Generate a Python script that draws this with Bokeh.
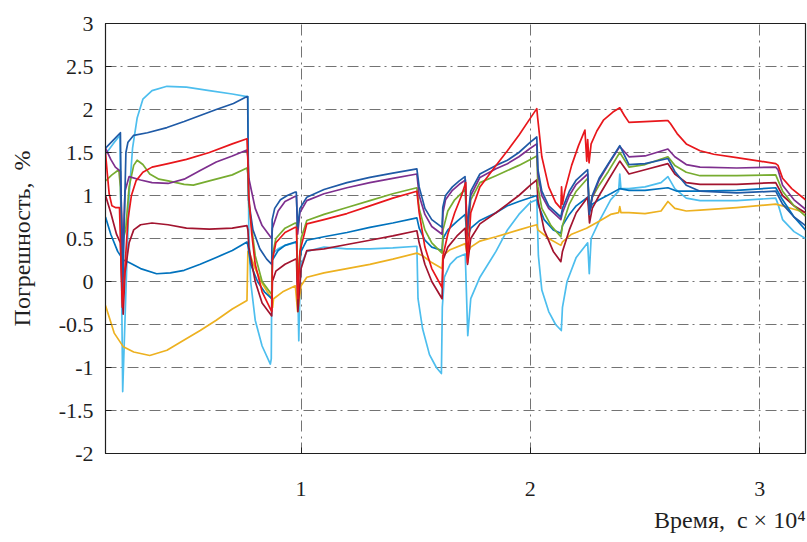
from bokeh.plotting import figure
from bokeh.models import Range1d, FixedTicker, Title
from bokeh.embed import file_html
from bokeh.resources import INLINE

# Measurement error traces, (time ×10^4 s, error %) pairs per channel
red = [(0.147, 1.50), (0.155, 1.25), (0.163, 1.02), (0.175, 0.88), (0.19, 0.86), (0.208, 0.86),
       (0.214, 0.30), (0.220, -0.30), (0.226, -0.10), (0.235, 0.30), (0.245, 0.72), (0.26, 1.00),
       (0.28, 1.17), (0.31, 1.27), (0.35, 1.33), (0.42, 1.37), (0.50, 1.42), (0.60, 1.50),
       (0.70, 1.60), (0.764, 1.66),
       (0.768, 1.40), (0.772, 1.00), (0.785, 0.55), (0.80, 0.20), (0.83, -0.12), (0.872, -0.35),
       (0.875, 0.25), (0.89, 0.45), (0.93, 0.57), (0.975, 0.63),
       (0.98, 0.63), (0.986, -0.20), (0.995, 0.35), (1.025, 0.67),
       (1.10, 0.72), (1.20, 0.79), (1.30, 0.88), (1.40, 0.97), (1.505, 1.05),
       (1.515, 0.80), (1.54, 0.40), (1.57, 0.15), (1.615, -0.07),
       (1.619, 0.30), (1.64, 0.55), (1.67, 0.80), (1.70, 1.00), (1.718, 1.15),
       (1.726, 0.22),
       (1.74, 0.80), (1.78, 1.10), (1.85, 1.35), (1.90, 1.52), (1.95, 1.70), (2.00, 1.90), (2.028, 2.01),
       (2.032, 1.90), (2.05, 1.45), (2.08, 1.10), (2.11, 0.92), (2.133, 0.85), (2.136, 1.10), (2.14, 0.90),
       (2.15, 1.05), (2.18, 1.35), (2.21, 1.58), (2.238, 1.76),
       (2.246, 1.40), (2.25, 1.65), (2.256, 1.38), (2.265, 1.60),
       (2.29, 1.75), (2.32, 1.88), (2.36, 1.97), (2.39, 2.02),
       (2.41, 1.93), (2.43, 1.85), (2.50, 1.86), (2.59, 1.87), (2.60, 1.87),
       (2.61, 1.84), (2.64, 1.72), (2.68, 1.60), (2.74, 1.52),
       (2.80, 1.48), (2.90, 1.44), (3.00, 1.40), (3.07, 1.37),
       (3.08, 1.35), (3.10, 1.20), (3.14, 1.08), (3.20, 0.95)]

purple = [(0.147, 1.55), (0.17, 1.42), (0.19, 1.33), (0.212, 1.28), (0.217, 0.80), (0.223, 0.30),
          (0.232, 1.05), (0.25, 1.22), (0.30, 1.18), (0.35, 1.15), (0.42, 1.14), (0.49, 1.19),
          (0.56, 1.29), (0.63, 1.39), (0.70, 1.46), (0.764, 1.53),
          (0.768, 1.45), (0.772, 1.20), (0.80, 0.85), (0.83, 0.65), (0.872, 0.50),
          (0.875, 0.62), (0.90, 0.82), (0.93, 0.93), (0.975, 0.99),
          (0.98, 0.99), (0.985, 0.55), (0.995, 0.80), (1.025, 0.94),
          (1.10, 1.02), (1.20, 1.09), (1.30, 1.15), (1.40, 1.20), (1.505, 1.25),
          (1.515, 1.00), (1.54, 0.78), (1.57, 0.64), (1.615, 0.55),
          (1.619, 0.80), (1.63, 0.95), (1.66, 1.06), (1.69, 1.13), (1.717, 1.18),
          (1.724, 0.55),
          (1.74, 1.00), (1.78, 1.21), (1.85, 1.31), (1.90, 1.37), (1.95, 1.45), (2.00, 1.55), (2.028, 1.60),
          (2.033, 1.25), (2.05, 1.00), (2.08, 0.85), (2.133, 0.72),
          (2.14, 0.80), (2.17, 1.00), (2.20, 1.13), (2.25, 1.25),
          (2.257, 0.80), (2.27, 0.98),
          (2.30, 1.18), (2.34, 1.36), (2.39, 1.57),
          (2.43, 1.45), (2.50, 1.46), (2.60, 1.54),
          (2.63, 1.45), (2.68, 1.36), (2.74, 1.33),
          (2.90, 1.32), (3.07, 1.33),
          (3.08, 1.30), (3.10, 1.12), (3.15, 0.95), (3.20, 0.84)]

navy = [(0.147, 1.55), (0.18, 1.64), (0.212, 1.73), (0.216, 0.80), (0.222, -0.20), (0.228, 0.60),
        (0.236, 1.50), (0.245, 1.62), (0.27, 1.70), (0.33, 1.73), (0.415, 1.79), (0.49, 1.86),
        (0.56, 1.93), (0.63, 2.00), (0.705, 2.07), (0.764, 2.15),
        (0.767, 2.15), (0.771, 0.95), (0.79, 0.60), (0.82, 0.38), (0.85, 0.26), (0.872, 0.20),
        (0.874, 0.72), (0.885, 0.85), (0.91, 0.95), (0.94, 1.00), (0.975, 1.04),
        (0.979, 1.04), (0.985, 0.62), (0.995, 0.85), (1.025, 0.98),
        (1.10, 1.07), (1.20, 1.15), (1.30, 1.21), (1.40, 1.26), (1.505, 1.31),
        (1.515, 1.10), (1.54, 0.85), (1.57, 0.72), (1.615, 0.63),
        (1.618, 0.86), (1.63, 1.00), (1.66, 1.10), (1.69, 1.17), (1.715, 1.22),
        (1.723, 0.60),
        (1.74, 1.05), (1.78, 1.25), (1.85, 1.35), (1.90, 1.41), (1.95, 1.50), (2.00, 1.62), (2.028, 1.68),
        (2.033, 1.30), (2.05, 1.05), (2.08, 0.88), (2.133, 0.75),
        (2.14, 0.85), (2.17, 1.05), (2.20, 1.18), (2.25, 1.30),
        (2.257, 0.78), (2.27, 1.00),
        (2.30, 1.20), (2.34, 1.37), (2.39, 1.58),
        (2.43, 1.36), (2.50, 1.37), (2.60, 1.43),
        (2.63, 1.28), (2.68, 1.12), (2.74, 1.05),
        (2.90, 1.03), (3.07, 1.05),
        (3.10, 0.90), (3.15, 0.75), (3.20, 0.65)]

green = [(0.147, 1.17), (0.175, 1.24), (0.205, 1.30), (0.212, 1.10), (0.22, 0.45), (0.235, 0.60),
         (0.25, 1.10), (0.27, 1.35), (0.285, 1.41), (0.31, 1.36), (0.34, 1.25), (0.38, 1.19),
         (0.42, 1.17), (0.49, 1.13), (0.53, 1.12), (0.60, 1.17), (0.70, 1.24), (0.764, 1.32),
         (0.768, 1.25), (0.772, 0.90), (0.80, 0.30), (0.83, 0.00), (0.872, -0.15),
         (0.875, 0.30), (0.89, 0.50), (0.93, 0.62), (0.975, 0.68),
         (0.98, 0.68), (0.986, 0.00), (1.00, 0.50), (1.025, 0.71),
         (1.10, 0.78), (1.20, 0.86), (1.30, 0.94), (1.40, 1.02), (1.505, 1.09),
         (1.515, 0.85), (1.54, 0.60), (1.57, 0.45), (1.615, 0.33),
         (1.619, 0.60), (1.64, 0.82), (1.67, 0.95), (1.716, 1.07),
         (1.724, 0.50),
         (1.74, 0.95), (1.78, 1.15), (1.85, 1.23), (1.90, 1.29), (1.95, 1.35), (2.00, 1.42), (2.028, 1.46),
         (2.033, 1.10), (2.05, 0.85), (2.09, 0.65), (2.133, 0.52),
         (2.14, 0.65), (2.17, 0.90), (2.20, 1.05), (2.25, 1.20),
         (2.258, 0.85), (2.27, 0.98),
         (2.30, 1.12), (2.34, 1.28), (2.39, 1.50),
         (2.43, 1.33), (2.50, 1.36), (2.60, 1.45),
         (2.63, 1.35), (2.68, 1.27), (2.74, 1.23),
         (2.90, 1.23), (3.07, 1.24),
         (3.10, 1.05), (3.15, 0.88), (3.20, 0.76)]

maroon = [(0.147, 1.00), (0.17, 0.80), (0.195, 0.55), (0.212, 0.45), (0.218, 0.00), (0.224, -0.38),
          (0.232, 0.10), (0.25, 0.45), (0.27, 0.60), (0.30, 0.66), (0.35, 0.68), (0.42, 0.66),
          (0.50, 0.62), (0.60, 0.61), (0.70, 0.62), (0.764, 0.65),
          (0.768, 0.60), (0.772, 0.40), (0.80, 0.00), (0.83, -0.25), (0.872, -0.40),
          (0.875, 0.00), (0.89, 0.12), (0.93, 0.20), (0.975, 0.26),
          (0.98, 0.26), (0.986, -0.35), (1.00, 0.15), (1.025, 0.36),
          (1.10, 0.38), (1.20, 0.43), (1.30, 0.48), (1.40, 0.53), (1.505, 0.59),
          (1.515, 0.45), (1.54, 0.20), (1.57, 0.00), (1.615, -0.20),
          (1.619, 0.25), (1.64, 0.40), (1.68, 0.53), (1.716, 0.62),
          (1.726, 0.20),
          (1.74, 0.50), (1.78, 0.67), (1.85, 0.80), (1.90, 0.90), (1.95, 1.00), (2.00, 1.12), (2.028, 1.18),
          (2.033, 0.95), (2.06, 0.60), (2.10, 0.35), (2.133, 0.23),
          (2.14, 0.35), (2.17, 0.60), (2.20, 0.80), (2.25, 0.98),
          (2.258, 0.68), (2.27, 0.85),
          (2.30, 1.00), (2.34, 1.18), (2.39, 1.40),
          (2.43, 1.25), (2.50, 1.30), (2.60, 1.37),
          (2.63, 1.25), (2.68, 1.15), (2.74, 1.13),
          (2.90, 1.13), (3.07, 1.15),
          (3.10, 1.00), (3.15, 0.88), (3.20, 0.80)]

blue = [(0.147, 0.75), (0.17, 0.55), (0.20, 0.35), (0.225, 0.25), (0.25, 0.22), (0.30, 0.15),
        (0.37, 0.09), (0.43, 0.10), (0.49, 0.13), (0.56, 0.20), (0.63, 0.28), (0.70, 0.36), (0.764, 0.46),
        (0.768, 0.42), (0.78, 0.20), (0.81, 0.00), (0.84, -0.12), (0.872, -0.20),
        (0.875, 0.25), (0.90, 0.36), (0.93, 0.42), (0.975, 0.46),
        (0.98, 0.46), (0.986, 0.00), (1.00, 0.35), (1.025, 0.48),
        (1.10, 0.52), (1.20, 0.57), (1.30, 0.63), (1.40, 0.68), (1.505, 0.74),
        (1.515, 0.62), (1.54, 0.48), (1.57, 0.40), (1.615, 0.36),
        (1.619, 0.50), (1.64, 0.60), (1.68, 0.70), (1.716, 0.78),
        (1.724, 0.50),
        (1.74, 0.62), (1.78, 0.71), (1.85, 0.80), (1.90, 0.88), (1.95, 0.93), (2.028, 1.00),
        (2.033, 0.90), (2.06, 0.72), (2.10, 0.60), (2.133, 0.56),
        (2.14, 0.65), (2.17, 0.78), (2.20, 0.88), (2.25, 0.98),
        (2.258, 0.82), (2.27, 0.90),
        (2.30, 0.95), (2.35, 1.02), (2.39, 1.08),
        (2.43, 1.06), (2.50, 1.06), (2.60, 1.09),
        (2.64, 1.05), (2.74, 1.05),
        (2.90, 1.06), (3.07, 1.09),
        (3.10, 0.95), (3.15, 0.75), (3.20, 0.60)]

light_blue = [(0.147, 1.48), (0.18, 1.60), (0.21, 1.70), (0.215, 0.50), (0.222, -1.28), (0.235, -0.20),
              (0.25, 1.00), (0.265, 1.55), (0.285, 1.90), (0.31, 2.12), (0.35, 2.22), (0.415, 2.27),
              (0.50, 2.26), (0.60, 2.22), (0.70, 2.18), (0.764, 2.15),
              (0.768, 2.15), (0.772, 0.60), (0.78, 0.00), (0.80, -0.45), (0.83, -0.75), (0.866, -0.96),
              (0.87, -0.90), (0.873, 0.32), (0.90, 0.38), (0.93, 0.42), (0.975, 0.45),
              (0.982, 0.45), (0.99, -0.69), (0.995, -0.10), (1.00, 0.20), (1.025, 0.35),
              (1.10, 0.40), (1.20, 0.38), (1.30, 0.38), (1.40, 0.39), (1.505, 0.41),
              (1.51, -0.20), (1.53, -0.55), (1.56, -0.85), (1.59, -1.00), (1.612, -1.07),
              (1.616, -0.30), (1.625, 0.05), (1.65, 0.20), (1.68, 0.28), (1.716, 0.32),
              (1.727, -0.63),
              (1.74, -0.20), (1.78, 0.05), (1.85, 0.35), (1.90, 0.60), (1.95, 0.78), (2.00, 0.92), (2.028, 0.95),
              (2.035, 0.30), (2.05, -0.10), (2.08, -0.35), (2.11, -0.50), (2.135, -0.57),
              (2.14, -0.30), (2.16, 0.00), (2.20, 0.28), (2.25, 0.45),
              (2.257, 0.09), (2.265, 0.50),
              (2.30, 0.70), (2.35, 0.95), (2.385, 1.05), (2.39, 1.25), (2.395, 1.08),
              (2.43, 1.08), (2.50, 1.10), (2.57, 1.15), (2.60, 1.22),
              (2.63, 1.08), (2.68, 0.97), (2.74, 0.94),
              (2.90, 0.94), (3.07, 0.97),
              (3.08, 0.90), (3.10, 0.72), (3.15, 0.58), (3.20, 0.50)]

yellow = [(0.147, -0.28), (0.185, -0.60), (0.225, -0.76), (0.27, -0.82), (0.34, -0.86), (0.415, -0.80),
          (0.49, -0.68), (0.56, -0.57), (0.63, -0.45), (0.70, -0.32), (0.764, -0.22),
          (0.768, 0.35), (0.775, 0.33), (0.80, 0.15), (0.83, -0.02), (0.872, -0.20),
          (0.876, -0.30), (0.88, -0.20), (0.92, -0.12), (0.975, -0.05),
          (0.985, -0.35), (1.00, -0.05), (1.025, 0.05),
          (1.10, 0.10), (1.20, 0.15), (1.30, 0.20), (1.40, 0.26), (1.505, 0.33),
          (1.53, 0.30), (1.57, 0.22), (1.615, 0.15),
          (1.618, 0.30), (1.65, 0.37), (1.716, 0.44),
          (1.724, 0.32),
          (1.74, 0.40), (1.78, 0.47), (1.85, 0.52), (1.90, 0.56), (1.95, 0.60), (2.00, 0.64), (2.028, 0.66),
          (2.033, 0.60), (2.08, 0.50), (2.133, 0.42),
          (2.14, 0.46), (2.18, 0.55), (2.245, 0.62),
          (2.30, 0.70), (2.35, 0.78), (2.385, 0.80), (2.39, 0.87), (2.395, 0.80),
          (2.43, 0.80), (2.50, 0.79), (2.57, 0.82), (2.60, 0.93),
          (2.63, 0.85), (2.68, 0.82), (2.74, 0.83),
          (2.90, 0.86), (3.07, 0.90),
          (3.10, 0.88), (3.15, 0.84), (3.20, 0.80)]

# Drawing order and colours (last drawn is on top)
series = [
    (light_blue, "#4dbeee"),
    (yellow, "#edb120"),
    (blue, "#0072bd"),
    (maroon, "#a2142f"),
    (green, "#77ac30"),
    (purple, "#7e2f8e"),
    (navy, "#1f5aa6"),
    (red, "#e8161b"),
]

y_ticks = [-2, -1.5, -1, -0.5, 0, 0.5, 1, 1.5, 2, 2.5, 3]
y_tick_labels = ["-2", "-1.5", "-1", "-0.5", "0", "0.5", "1", "1.5", "2", "2.5", "3"]
x_ticks = [1, 2, 3]
x_tick_labels = ["1", "2", "3"]

FONT = "'Liberation Serif', 'Times New Roman', serif"
INK = "#1f1f1f"
NB = "\u00a0"

p = figure(width=807, height=542, output_backend="svg", toolbar_location=None,
           x_range=Range1d(0.147, 3.2), y_range=Range1d(-2, 3),
           min_border_left=105, min_border_right=2, min_border_top=23, min_border_bottom=89)
p.background_fill_color = "white"
p.border_fill_color = "white"
p.outline_line_color = INK
p.outline_line_width = 1.2

for pts, color in series:
    xs = [t for t, _ in pts]
    ys = [e for _, e in pts]
    p.line(xs, ys, line_color=color, line_width=1.7, line_join="round")

# axes
p.xaxis.ticker = FixedTicker(ticks=x_ticks)
p.xaxis.major_label_overrides = {t: s for t, s in zip(x_ticks, x_tick_labels)}
p.yaxis.ticker = FixedTicker(ticks=y_ticks)
p.yaxis.major_label_overrides = {t: s for t, s in zip(y_ticks, y_tick_labels)}
for ax in (p.xaxis, p.yaxis):
    ax.axis_line_color = INK
    ax.major_tick_line_color = INK
    ax.major_tick_in = 6
    ax.major_tick_out = 0
    ax.minor_tick_line_color = None
    ax.major_label_text_font = FONT
    ax.major_label_text_font_size = "22px"
    ax.major_label_text_color = INK
p.xaxis.major_label_standoff = 28
p.yaxis.major_label_standoff = 12

p.yaxis.axis_label = "Погрешность," + NB + NB + "%"
p.yaxis.axis_label_text_font = FONT
p.yaxis.axis_label_text_font_size = "24px"
p.yaxis.axis_label_text_font_style = "normal"
p.yaxis.axis_label_text_color = INK
p.yaxis.axis_label_standoff = 21

p.add_layout(Title(text="Время," + NB + NB + "c" + NB + "×" + NB + "10⁴", align="right", text_font=FONT,
                   text_font_size="24px", text_font_style="normal", text_color=INK,
                   standoff=12), "below")

# dash-dot grid
p.xgrid.ticker = FixedTicker(ticks=x_ticks)
p.ygrid.ticker = FixedTicker(ticks=y_ticks[1:-1])
for g in (p.xgrid, p.ygrid):
    g.grid_line_color = "#5a5a5a"
    g.grid_line_alpha = 0.85
    g.grid_line_width = 1
    g.grid_line_dash = "11 4 2 5"

open("out.html", "w").write(file_html(p, INLINE))
